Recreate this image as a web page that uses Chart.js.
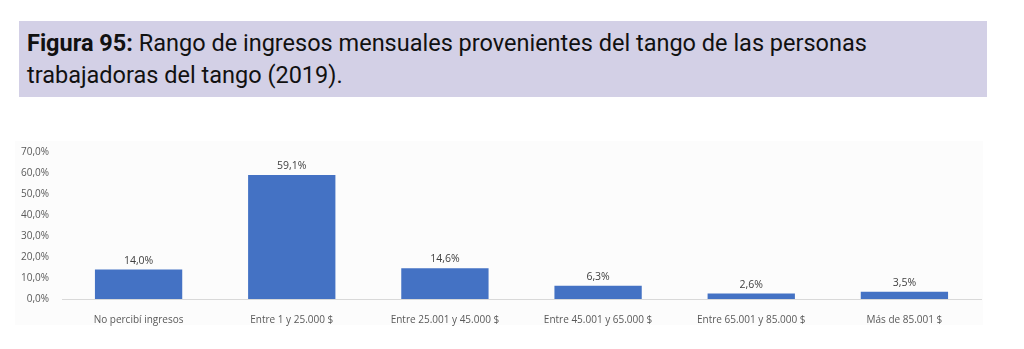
<!DOCTYPE html>
<html>
<head>
<meta charset="utf-8">
<script src="https://cdn.jsdelivr.net/npm/chart.js@4/dist/chart.umd.min.js"></script>
<style>
  html, body { margin: 0; padding: 0; background: #fff; width: 1024px; height: 349px; overflow: hidden; }
  #titulo {
    position: absolute; left: 19px; top: 21px; width: 960px; height: 76px;
    padding-left: 8px; background: #d3d0e6; color: #111;
    font-family: Roboto, sans-serif; font-size: 23.5px; line-height: 32px;
    box-sizing: content-box;
  }
  #titulo div { padding-top: 6px; }
  #fondo { position: absolute; left: 15px; top: 141px; width: 968px; height: 184px; background: #fcfcfc; }
  #zona { position: absolute; left: 0; top: 130px; width: 1024px; height: 210px; }
</style>
</head>
<body>
<div id="titulo"><div><b>Figura 95:</b> Rango de ingresos mensuales provenientes del tango de las personas<br>trabajadoras del tango (2019).</div></div>
<div id="fondo"></div>
<div id="zona"><canvas id="grafico"></canvas></div>
<script>
// Categorías y valores (%)
const rangos = ['No percibí ingresos', 'Entre 1 y 25.000 $', 'Entre 25.001 y 45.000 $', 'Entre 45.001 y 65.000 $', 'Entre 65.001 y 85.000 $', 'Más de 85.001 $'];
const porcentajes = [14.0, 59.1, 14.6, 6.3, 2.6, 3.5];
const ticksY = [0, 10, 20, 30, 40, 50, 60, 70];

const fmt = v => v.toFixed(1).replace('.', ',') + '%';

// Etiquetas encima de las barras
const etiquetas = {
  id: 'etiquetas',
  afterDatasetsDraw(chart) {
    const ctx = chart.ctx;
    const meta = chart.getDatasetMeta(0);
    ctx.save();
    ctx.font = '10.5px "Open Sans", sans-serif';
    ctx.fillStyle = '#404040';
    ctx.textAlign = 'center';
    ctx.textBaseline = 'middle';
    meta.data.forEach((bar, i) => {
      ctx.fillText(fmt(porcentajes[i]), bar.x, bar.y - 9);
    });
    ctx.restore();
  }
};

new Chart(document.getElementById('grafico'), {
  type: 'bar',
  data: {
    labels: rangos,
    datasets: [{
      data: porcentajes,
      backgroundColor: '#4472c4',
      categoryPercentage: 1,
      barPercentage: 0.57
    }]
  },
  options: {
    responsive: true,
    maintainAspectRatio: false,
    animation: false,
    layout: { padding: { left: 0, right: 43, top: 22, bottom: 0 } },
    plugins: { legend: { display: false }, tooltip: { enabled: false } },
    scales: {
      x: {
        afterFit: s => { s.height = 41; },
        grid: { display: false },
        border: { color: '#d9d9d9' },
        ticks: { color: '#595959', font: { family: 'Open Sans', size: 10 }, padding: 7, maxRotation: 0 }
      },
      y: {
        min: 0, max: 70,
        afterFit: s => { s.width = 62; },
        afterBuildTicks: s => { s.ticks = ticksY.map(v => ({ value: v })); },
        grid: { display: false },
        border: { display: false },
        ticks: { color: '#595959', font: { family: 'Open Sans', size: 10 }, padding: 5, callback: v => fmt(v) }
      }
    }
  },
  plugins: [etiquetas]
});
</script>
</body>
</html>
